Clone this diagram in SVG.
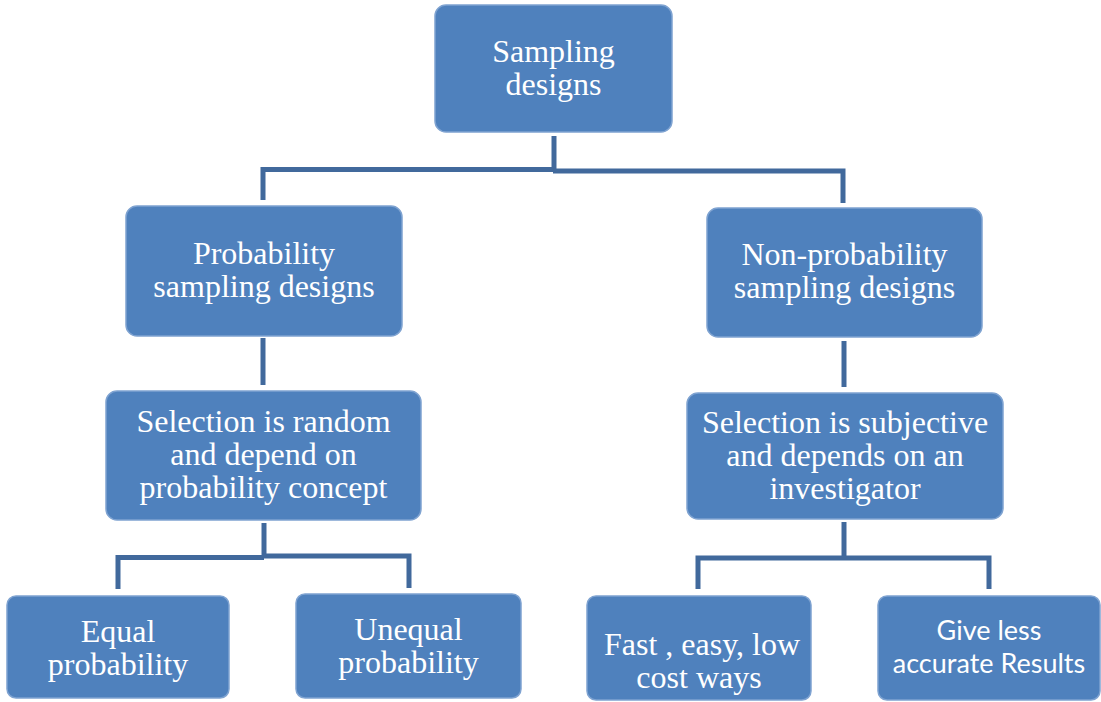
<svg xmlns="http://www.w3.org/2000/svg" width="1101" height="702" viewBox="0 0 1101 702">
<style>
.box{fill:#4f81bd;stroke:#7fa3d1;stroke-width:1.5}
.t{font-family:"Liberation Serif","Times New Roman",serif;font-size:32px;fill:#ffffff;text-anchor:middle}
.s{font-family:Lato,"Liberation Sans",sans-serif;font-size:27px;fill:#ffffff;text-anchor:middle}
.c{fill:none;stroke:#41699c;stroke-width:5}
</style>
<rect width="1101" height="702" fill="#ffffff"/>
<g id="connectors">
<path class="c" d="M554 136V172"/>
<path class="c" d="M263 200V169.5H555"/>
<path class="c" d="M553 171H843V203"/>
<path class="c" d="M263 338V385"/>
<path class="c" d="M844 341V387"/>
<path class="c" d="M264 523V557"/>
<path class="c" d="M118 589V557.5H264"/>
<path class="c" d="M262 556H409V588"/>
<path class="c" d="M844 522V558"/>
<path class="c" d="M698 589V558H989V589"/>
</g>
<g id="n-sampling">
<rect class="box" x="435" y="5" width="237" height="127" rx="11"/>
<text class="t" x="553.5" y="62">Sampling</text>
<text class="t" x="553.5" y="95">designs</text>
</g>
<g id="n-probability">
<rect class="box" x="126" y="206" width="276" height="130" rx="11"/>
<text class="t" x="264" y="264">Probability</text>
<text class="t" x="264" y="297">sampling designs</text>
</g>
<g id="n-nonprobability">
<rect class="box" x="707" y="208" width="275" height="129" rx="11"/>
<text class="t" x="844.5" y="265">Non-probability</text>
<text class="t" x="844.5" y="298">sampling designs</text>
</g>
<g id="n-random">
<rect class="box" x="106" y="391" width="315" height="129" rx="11"/>
<text class="t" x="263.5" y="432">Selection is random</text>
<text class="t" x="263.5" y="465">and depend on</text>
<text class="t" x="263.5" y="498">probability concept</text>
</g>
<g id="n-subjective">
<rect class="box" x="687" y="393" width="316" height="126" rx="11"/>
<text class="t" x="845" y="433">Selection is subjective</text>
<text class="t" x="845" y="466">and depends on an</text>
<text class="t" x="845" y="499">investigator</text>
</g>
<g id="n-equal">
<rect class="box" x="7" y="596" width="222" height="102" rx="9"/>
<text class="t" x="118" y="642">Equal</text>
<text class="t" x="118" y="675">probability</text>
</g>
<g id="n-unequal">
<rect class="box" x="296" y="594" width="225" height="104" rx="9"/>
<text class="t" x="408.5" y="640">Unequal</text>
<text class="t" x="408.5" y="673">probability</text>
</g>
<g id="n-fast">
<rect class="box" x="587" y="596" width="224" height="104" rx="9"/>
<text class="t" x="702" y="655">Fast , easy, low</text>
<text class="t" x="699" y="688">cost ways</text>
</g>
<g id="n-less">
<rect class="box" x="878" y="596" width="222" height="104" rx="9"/>
<text class="s" x="989" y="640">Give less</text>
<text class="s" x="989" y="673">accurate Results</text>
</g>
</svg>
